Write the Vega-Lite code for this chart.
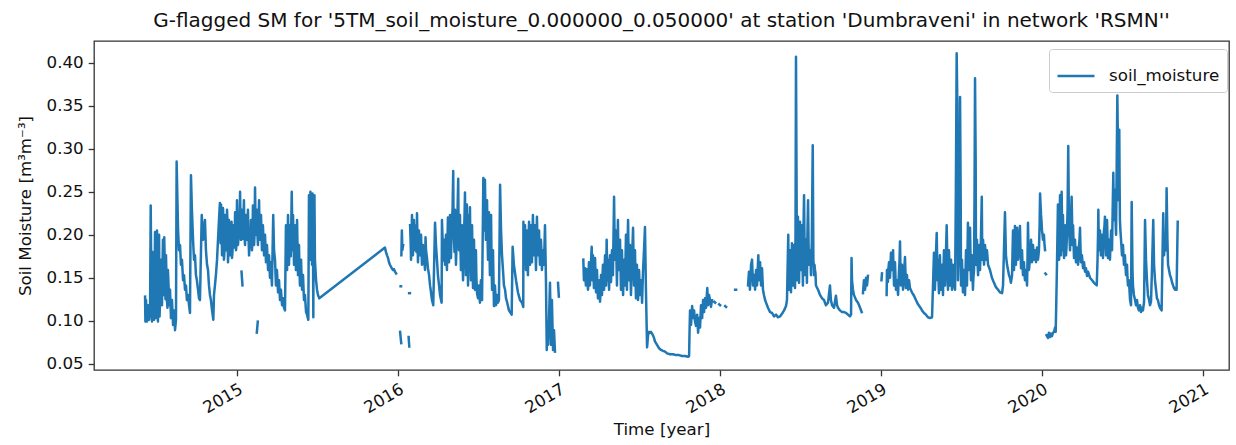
{
"$schema": "https://vega.github.io/schema/vega-lite/v6.json",
"width": 1135, "height": 329,
"autosize": "none",
"padding": {"left": 94, "top": 41, "right": 7, "bottom": 75},
"background": "white",
"title": {"text": "G-flagged SM for '5TM_soil_moisture_0.000000_0.050000' at station 'Dumbraveni' in network 'RSMN''", "font": "DejaVu Sans", "fontSize": 20, "fontWeight": "normal", "color": "#111", "anchor": "middle", "frame": "group", "offset": 10},
"data": {"values": [
{"t":2014.429,"v":0.128,"s":1},{"t":2014.431,"v":0.099,"s":1},{"t":2014.435,"v":0.124,"s":1},{"t":2014.441,"v":0.099,"s":1},{"t":2014.447,"v":0.118,"s":1},{"t":2014.454,"v":0.101,"s":1},{"t":2014.460,"v":0.112,"s":1},{"t":2014.464,"v":0.234,"s":1},{"t":2014.469,"v":0.124,"s":1},{"t":2014.472,"v":0.099,"s":1},{"t":2014.478,"v":0.136,"s":1},{"t":2014.485,"v":0.101,"s":1},{"t":2014.491,"v":0.203,"s":1},{"t":2014.497,"v":0.103,"s":1},{"t":2014.503,"v":0.205,"s":1},{"t":2014.509,"v":0.099,"s":1},{"t":2014.516,"v":0.200,"s":1},{"t":2014.522,"v":0.124,"s":1},{"t":2014.528,"v":0.171,"s":1},{"t":2014.534,"v":0.118,"s":1},{"t":2014.540,"v":0.194,"s":1},{"t":2014.548,"v":0.197,"s":1},{"t":2014.553,"v":0.136,"s":1},{"t":2014.559,"v":0.176,"s":1},{"t":2014.565,"v":0.124,"s":1},{"t":2014.571,"v":0.159,"s":1},{"t":2014.578,"v":0.118,"s":1},{"t":2014.584,"v":0.136,"s":1},{"t":2014.590,"v":0.103,"s":1},{"t":2014.596,"v":0.124,"s":1},{"t":2014.603,"v":0.095,"s":1},{"t":2014.609,"v":0.112,"s":1},{"t":2014.615,"v":0.089,"s":1},{"t":2014.621,"v":0.101,"s":1},{"t":2014.625,"v":0.285,"s":1},{"t":2014.630,"v":0.240,"s":1},{"t":2014.634,"v":0.205,"s":1},{"t":2014.640,"v":0.182,"s":1},{"t":2014.646,"v":0.188,"s":1},{"t":2014.652,"v":0.165,"s":1},{"t":2014.658,"v":0.171,"s":1},{"t":2014.665,"v":0.147,"s":1},{"t":2014.671,"v":0.153,"s":1},{"t":2014.677,"v":0.136,"s":1},{"t":2014.683,"v":0.141,"s":1},{"t":2014.689,"v":0.124,"s":1},{"t":2014.696,"v":0.130,"s":1},{"t":2014.702,"v":0.118,"s":1},{"t":2014.708,"v":0.109,"s":1},{"t":2014.714,"v":0.269,"s":1},{"t":2014.720,"v":0.229,"s":1},{"t":2014.727,"v":0.194,"s":1},{"t":2014.733,"v":0.171,"s":1},{"t":2014.739,"v":0.176,"s":1},{"t":2014.745,"v":0.153,"s":1},{"t":2014.751,"v":0.147,"s":1},{"t":2014.758,"v":0.136,"s":1},{"t":2014.764,"v":0.126,"s":1},{"t":2014.770,"v":0.124,"s":1},{"t":2014.781,"v":0.223,"s":1},{"t":2014.789,"v":0.194,"s":1},{"t":2014.801,"v":0.217,"s":1},{"t":2014.807,"v":0.182,"s":1},{"t":2014.814,"v":0.165,"s":1},{"t":2014.820,"v":0.159,"s":1},{"t":2014.826,"v":0.141,"s":1},{"t":2014.832,"v":0.130,"s":1},{"t":2014.838,"v":0.124,"s":1},{"t":2014.845,"v":0.112,"s":1},{"t":2014.853,"v":0.101,"s":1},{"t":2014.857,"v":0.130,"s":1},{"t":2014.863,"v":0.141,"s":1},{"t":2014.869,"v":0.153,"s":1},{"t":2014.876,"v":0.171,"s":1},{"t":2014.882,"v":0.194,"s":1},{"t":2014.888,"v":0.217,"s":1},{"t":2014.894,"v":0.237,"s":1},{"t":2014.901,"v":0.235,"s":1},{"t":2014.907,"v":0.176,"s":1},{"t":2014.913,"v":0.231,"s":1},{"t":2014.919,"v":0.171,"s":1},{"t":2014.925,"v":0.223,"s":1},{"t":2014.932,"v":0.182,"s":1},{"t":2014.938,"v":0.229,"s":1},{"t":2014.944,"v":0.168,"s":1},{"t":2014.950,"v":0.217,"s":1},{"t":2014.957,"v":0.176,"s":1},{"t":2014.963,"v":0.205,"s":1},{"t":2014.969,"v":0.173,"s":1},{"t":2014.975,"v":0.211,"s":1},{"t":2014.981,"v":0.188,"s":1},{"t":2014.988,"v":0.226,"s":1},{"t":2014.994,"v":0.182,"s":1},{"t":2015.000,"v":0.240,"s":1},{"t":2015.006,"v":0.188,"s":1},{"t":2015.012,"v":0.223,"s":1},{"t":2015.019,"v":0.250,"s":1},{"t":2015.025,"v":0.194,"s":1},{"t":2015.031,"v":0.229,"s":1},{"t":2015.037,"v":0.200,"s":1},{"t":2015.043,"v":0.240,"s":1},{"t":2015.050,"v":0.188,"s":1},{"t":2015.056,"v":0.223,"s":1},{"t":2015.062,"v":0.194,"s":1},{"t":2015.068,"v":0.229,"s":1},{"t":2015.075,"v":0.176,"s":1},{"t":2015.081,"v":0.205,"s":1},{"t":2015.087,"v":0.217,"s":1},{"t":2015.093,"v":0.182,"s":1},{"t":2015.099,"v":0.234,"s":1},{"t":2015.106,"v":0.188,"s":1},{"t":2015.112,"v":0.255,"s":1},{"t":2015.118,"v":0.200,"s":1},{"t":2015.124,"v":0.229,"s":1},{"t":2015.130,"v":0.188,"s":1},{"t":2015.137,"v":0.240,"s":1},{"t":2015.143,"v":0.194,"s":1},{"t":2015.149,"v":0.223,"s":1},{"t":2015.155,"v":0.182,"s":1},{"t":2015.161,"v":0.211,"s":1},{"t":2015.168,"v":0.176,"s":1},{"t":2015.174,"v":0.200,"s":1},{"t":2015.180,"v":0.168,"s":1},{"t":2015.186,"v":0.188,"s":1},{"t":2015.193,"v":0.159,"s":1},{"t":2015.199,"v":0.176,"s":1},{"t":2015.205,"v":0.150,"s":1},{"t":2015.211,"v":0.168,"s":1},{"t":2015.217,"v":0.141,"s":1},{"t":2015.225,"v":0.223,"s":1},{"t":2015.230,"v":0.182,"s":1},{"t":2015.236,"v":0.171,"s":1},{"t":2015.242,"v":0.141,"s":1},{"t":2015.248,"v":0.159,"s":1},{"t":2015.255,"v":0.133,"s":1},{"t":2015.261,"v":0.147,"s":1},{"t":2015.267,"v":0.124,"s":1},{"t":2015.273,"v":0.136,"s":1},{"t":2015.280,"v":0.118,"s":1},{"t":2015.286,"v":0.126,"s":1},{"t":2015.292,"v":0.115,"s":1},{"t":2015.298,"v":0.112,"s":1},{"t":2015.304,"v":0.211,"s":1},{"t":2015.311,"v":0.159,"s":1},{"t":2015.317,"v":0.223,"s":1},{"t":2015.323,"v":0.165,"s":1},{"t":2015.329,"v":0.211,"s":1},{"t":2015.340,"v":0.250,"s":1},{"t":2015.345,"v":0.182,"s":1},{"t":2015.348,"v":0.223,"s":1},{"t":2015.354,"v":0.165,"s":1},{"t":2015.360,"v":0.211,"s":1},{"t":2015.366,"v":0.159,"s":1},{"t":2015.373,"v":0.217,"s":1},{"t":2015.379,"v":0.153,"s":1},{"t":2015.385,"v":0.188,"s":1},{"t":2015.391,"v":0.141,"s":1},{"t":2015.398,"v":0.171,"s":1},{"t":2015.404,"v":0.136,"s":1},{"t":2015.410,"v":0.153,"s":1},{"t":2015.416,"v":0.124,"s":1},{"t":2015.422,"v":0.130,"s":1},{"t":2015.429,"v":0.110,"s":1},{"t":2015.435,"v":0.107,"s":1},{"t":2015.443,"v":0.101,"s":1},{"t":2015.447,"v":0.246,"s":1},{"t":2015.453,"v":0.171,"s":1},{"t":2015.456,"v":0.250,"s":1},{"t":2015.460,"v":0.176,"s":1},{"t":2015.463,"v":0.246,"s":1},{"t":2015.466,"v":0.165,"s":1},{"t":2015.469,"v":0.248,"s":1},{"t":2015.474,"v":0.104,"s":1},{"t":2015.478,"v":0.194,"s":1},{"t":2015.481,"v":0.246,"s":1},{"t":2015.484,"v":0.171,"s":1},{"t":2015.491,"v":0.147,"s":1},{"t":2015.497,"v":0.136,"s":1},{"t":2015.503,"v":0.130,"s":1},{"t":2015.511,"v":0.126,"s":1},{"t":2015.919,"v":0.185,"s":1},{"t":2015.925,"v":0.180,"s":1},{"t":2015.932,"v":0.176,"s":1},{"t":2015.938,"v":0.173,"s":1},{"t":2015.944,"v":0.168,"s":1},{"t":2015.950,"v":0.165,"s":1},{"t":2015.961,"v":0.161,"s":1},{"t":2015.969,"v":0.159,"s":1},{"t":2015.975,"v":0.160,"s":1},{"t":2015.981,"v":0.157,"s":1},{"t":2015.988,"v":0.155,"s":1},
{"t":2015.028,"v":0.157,"s":2},{"t":2015.034,"v":0.141,"s":2},
{"t":2015.123,"v":0.086,"s":3},{"t":2015.129,"v":0.099,"s":3},
{"t":2016.016,"v":0.140,"s":4},{"t":2016.019,"v":0.140,"s":4},
{"t":2016.069,"v":0.132,"s":5},{"t":2016.074,"v":0.132,"s":5},
{"t":2016.013,"v":0.087,"s":6},{"t":2016.020,"v":0.074,"s":6},
{"t":2016.066,"v":0.081,"s":7},{"t":2016.070,"v":0.070,"s":7},
{"t":2016.021,"v":0.176,"s":8},{"t":2016.024,"v":0.205,"s":8},{"t":2016.027,"v":0.182,"s":8},{"t":2016.032,"v":0.188,"s":8},
{"t":2016.075,"v":0.211,"s":9},{"t":2016.081,"v":0.171,"s":9},{"t":2016.087,"v":0.223,"s":9},{"t":2016.093,"v":0.176,"s":9},{"t":2016.099,"v":0.217,"s":9},{"t":2016.106,"v":0.182,"s":9},{"t":2016.112,"v":0.211,"s":9},{"t":2016.118,"v":0.225,"s":9},{"t":2016.124,"v":0.168,"s":9},{"t":2016.130,"v":0.205,"s":9},{"t":2016.137,"v":0.176,"s":9},{"t":2016.143,"v":0.200,"s":9},{"t":2016.149,"v":0.165,"s":9},{"t":2016.155,"v":0.188,"s":9},{"t":2016.162,"v":0.171,"s":9},{"t":2016.168,"v":0.159,"s":9},{"t":2016.171,"v":0.197,"s":9},{"t":2016.174,"v":0.182,"s":9},{"t":2016.180,"v":0.173,"s":9},{"t":2016.186,"v":0.161,"s":9},{"t":2016.193,"v":0.153,"s":9},{"t":2016.199,"v":0.141,"s":9},{"t":2016.205,"v":0.133,"s":9},{"t":2016.211,"v":0.124,"s":9},{"t":2016.219,"v":0.118,"s":9},{"t":2016.230,"v":0.214,"s":9},{"t":2016.236,"v":0.188,"s":9},{"t":2016.242,"v":0.171,"s":9},{"t":2016.248,"v":0.153,"s":9},{"t":2016.255,"v":0.141,"s":9},{"t":2016.261,"v":0.130,"s":9},{"t":2016.271,"v":0.121,"s":9},{"t":2016.273,"v":0.217,"s":9},{"t":2016.279,"v":0.182,"s":9},{"t":2016.286,"v":0.194,"s":9},{"t":2016.292,"v":0.165,"s":9},{"t":2016.298,"v":0.200,"s":9},{"t":2016.304,"v":0.159,"s":9},{"t":2016.310,"v":0.220,"s":9},{"t":2016.317,"v":0.168,"s":9},{"t":2016.323,"v":0.223,"s":9},{"t":2016.329,"v":0.173,"s":9},{"t":2016.335,"v":0.217,"s":9},{"t":2016.343,"v":0.274,"s":9},{"t":2016.348,"v":0.194,"s":9},{"t":2016.354,"v":0.229,"s":9},{"t":2016.360,"v":0.165,"s":9},{"t":2016.366,"v":0.211,"s":9},{"t":2016.374,"v":0.265,"s":9},{"t":2016.379,"v":0.182,"s":9},{"t":2016.385,"v":0.223,"s":9},{"t":2016.391,"v":0.159,"s":9},{"t":2016.397,"v":0.211,"s":9},{"t":2016.404,"v":0.147,"s":9},{"t":2016.410,"v":0.202,"s":9},{"t":2016.416,"v":0.249,"s":9},{"t":2016.422,"v":0.153,"s":9},{"t":2016.428,"v":0.235,"s":9},{"t":2016.435,"v":0.141,"s":9},{"t":2016.441,"v":0.223,"s":9},{"t":2016.447,"v":0.232,"s":9},{"t":2016.453,"v":0.147,"s":9},{"t":2016.460,"v":0.211,"s":9},{"t":2016.466,"v":0.138,"s":9},{"t":2016.472,"v":0.194,"s":9},{"t":2016.478,"v":0.136,"s":9},{"t":2016.484,"v":0.182,"s":9},{"t":2016.491,"v":0.132,"s":9},{"t":2016.497,"v":0.126,"s":9},{"t":2016.503,"v":0.141,"s":9},{"t":2016.509,"v":0.121,"s":9},{"t":2016.515,"v":0.147,"s":9},{"t":2016.522,"v":0.124,"s":9},{"t":2016.530,"v":0.266,"s":9},{"t":2016.534,"v":0.205,"s":9},{"t":2016.540,"v":0.264,"s":9},{"t":2016.546,"v":0.194,"s":9},{"t":2016.553,"v":0.240,"s":9},{"t":2016.559,"v":0.171,"s":9},{"t":2016.565,"v":0.226,"s":9},{"t":2016.571,"v":0.153,"s":9},{"t":2016.578,"v":0.223,"s":9},{"t":2016.584,"v":0.136,"s":9},{"t":2016.590,"v":0.182,"s":9},{"t":2016.596,"v":0.117,"s":9},{"t":2016.602,"v":0.141,"s":9},{"t":2016.609,"v":0.118,"s":9},{"t":2016.615,"v":0.130,"s":9},{"t":2016.621,"v":0.121,"s":9},{"t":2016.627,"v":0.124,"s":9},{"t":2016.634,"v":0.258,"s":9},{"t":2016.640,"v":0.205,"s":9},{"t":2016.646,"v":0.176,"s":9},{"t":2016.652,"v":0.159,"s":9},{"t":2016.658,"v":0.141,"s":9},{"t":2016.665,"v":0.136,"s":9},{"t":2016.671,"v":0.126,"s":9},{"t":2016.677,"v":0.122,"s":9},{"t":2016.683,"v":0.117,"s":9},{"t":2016.689,"v":0.112,"s":9},{"t":2016.696,"v":0.110,"s":9},{"t":2016.706,"v":0.107,"s":9},{"t":2016.712,"v":0.186,"s":9},{"t":2016.720,"v":0.165,"s":9},{"t":2016.733,"v":0.147,"s":9},{"t":2016.745,"v":0.133,"s":9},{"t":2016.758,"v":0.124,"s":9},{"t":2016.770,"v":0.121,"s":9},{"t":2016.778,"v":0.116,"s":9},{"t":2016.779,"v":0.215,"s":9},{"t":2016.782,"v":0.171,"s":9},{"t":2016.789,"v":0.211,"s":9},{"t":2016.795,"v":0.159,"s":9},{"t":2016.801,"v":0.205,"s":9},{"t":2016.807,"v":0.153,"s":9},{"t":2016.814,"v":0.215,"s":9},{"t":2016.820,"v":0.165,"s":9},{"t":2016.826,"v":0.211,"s":9},{"t":2016.832,"v":0.168,"s":9},{"t":2016.838,"v":0.223,"s":9},{"t":2016.845,"v":0.176,"s":9},{"t":2016.851,"v":0.211,"s":9},{"t":2016.857,"v":0.159,"s":9},{"t":2016.863,"v":0.221,"s":9},{"t":2016.869,"v":0.176,"s":9},{"t":2016.876,"v":0.205,"s":9},{"t":2016.882,"v":0.165,"s":9},{"t":2016.888,"v":0.194,"s":9},{"t":2016.894,"v":0.159,"s":9},{"t":2016.901,"v":0.182,"s":9},{"t":2016.907,"v":0.165,"s":9},{"t":2016.913,"v":0.211,"s":9},{"t":2016.919,"v":0.147,"s":9},{"t":2016.924,"v":0.066,"s":9},{"t":2016.927,"v":0.095,"s":9},{"t":2016.932,"v":0.072,"s":9},{"t":2016.938,"v":0.101,"s":9},{"t":2016.944,"v":0.144,"s":9},{"t":2016.950,"v":0.072,"s":9},{"t":2016.956,"v":0.124,"s":9},{"t":2016.963,"v":0.066,"s":9},{"t":2016.969,"v":0.089,"s":9},{"t":2016.975,"v":0.064,"s":9},
{"t":2016.994,"v":0.144,"s":10},{"t":2016.999,"v":0.128,"s":10},
{"t":2017.151,"v":0.171,"s":11},{"t":2017.155,"v":0.147,"s":11},{"t":2017.161,"v":0.161,"s":11},{"t":2017.167,"v":0.141,"s":11},{"t":2017.174,"v":0.153,"s":11},{"t":2017.180,"v":0.136,"s":11},{"t":2017.186,"v":0.168,"s":11},{"t":2017.192,"v":0.141,"s":11},{"t":2017.203,"v":0.186,"s":11},{"t":2017.208,"v":0.147,"s":11},{"t":2017.211,"v":0.176,"s":11},{"t":2017.217,"v":0.138,"s":11},{"t":2017.224,"v":0.173,"s":11},{"t":2017.230,"v":0.133,"s":11},{"t":2017.236,"v":0.159,"s":11},{"t":2017.242,"v":0.126,"s":11},{"t":2017.248,"v":0.147,"s":11},{"t":2017.255,"v":0.122,"s":11},{"t":2017.261,"v":0.153,"s":11},{"t":2017.267,"v":0.130,"s":11},{"t":2017.273,"v":0.165,"s":11},{"t":2017.280,"v":0.136,"s":11},{"t":2017.286,"v":0.176,"s":11},{"t":2017.292,"v":0.141,"s":11},{"t":2017.296,"v":0.194,"s":11},{"t":2017.301,"v":0.147,"s":11},{"t":2017.304,"v":0.171,"s":11},{"t":2017.311,"v":0.136,"s":11},{"t":2017.317,"v":0.176,"s":11},{"t":2017.323,"v":0.145,"s":11},{"t":2017.329,"v":0.182,"s":11},{"t":2017.335,"v":0.153,"s":11},{"t":2017.342,"v":0.244,"s":11},{"t":2017.348,"v":0.171,"s":11},{"t":2017.354,"v":0.205,"s":11},{"t":2017.360,"v":0.141,"s":11},{"t":2017.366,"v":0.217,"s":11},{"t":2017.373,"v":0.159,"s":11},{"t":2017.379,"v":0.194,"s":11},{"t":2017.385,"v":0.136,"s":11},{"t":2017.391,"v":0.182,"s":11},{"t":2017.398,"v":0.130,"s":11},{"t":2017.404,"v":0.171,"s":11},{"t":2017.410,"v":0.141,"s":11},{"t":2017.416,"v":0.200,"s":11},{"t":2017.422,"v":0.136,"s":11},{"t":2017.429,"v":0.217,"s":11},{"t":2017.435,"v":0.147,"s":11},{"t":2017.441,"v":0.188,"s":11},{"t":2017.447,"v":0.130,"s":11},{"t":2017.453,"v":0.171,"s":11},{"t":2017.460,"v":0.208,"s":11},{"t":2017.466,"v":0.141,"s":11},{"t":2017.472,"v":0.182,"s":11},{"t":2017.478,"v":0.126,"s":11},{"t":2017.484,"v":0.165,"s":11},{"t":2017.491,"v":0.124,"s":11},{"t":2017.497,"v":0.159,"s":11},{"t":2017.503,"v":0.130,"s":11},{"t":2017.509,"v":0.147,"s":11},{"t":2017.516,"v":0.121,"s":11},{"t":2017.522,"v":0.159,"s":11},{"t":2017.528,"v":0.182,"s":11},{"t":2017.534,"v":0.209,"s":11},{"t":2017.540,"v":0.136,"s":11},{"t":2017.547,"v":0.069,"s":11},{"t":2017.553,"v":0.083,"s":11},{"t":2017.559,"v":0.087,"s":11},{"t":2017.565,"v":0.086,"s":11},{"t":2017.571,"v":0.087,"s":11},{"t":2017.578,"v":0.085,"s":11},{"t":2017.584,"v":0.083,"s":11},{"t":2017.590,"v":0.080,"s":11},{"t":2017.596,"v":0.076,"s":11},{"t":2017.609,"v":0.072,"s":11},{"t":2017.621,"v":0.068,"s":11},{"t":2017.634,"v":0.066,"s":11},{"t":2017.646,"v":0.065,"s":11},{"t":2017.659,"v":0.064,"s":11},{"t":2017.671,"v":0.062,"s":11},{"t":2017.690,"v":0.061,"s":11},{"t":2017.708,"v":0.061,"s":11},{"t":2017.727,"v":0.060,"s":11},{"t":2017.746,"v":0.060,"s":11},{"t":2017.764,"v":0.059,"s":11},{"t":2017.783,"v":0.059,"s":11},{"t":2017.802,"v":0.058,"s":11},{"t":2017.808,"v":0.059,"s":11},{"t":2017.811,"v":0.089,"s":11},{"t":2017.814,"v":0.112,"s":11},{"t":2017.820,"v":0.095,"s":11},{"t":2017.827,"v":0.117,"s":11},{"t":2017.833,"v":0.103,"s":11},{"t":2017.839,"v":0.112,"s":11},{"t":2017.845,"v":0.099,"s":11},{"t":2017.851,"v":0.094,"s":11},{"t":2017.858,"v":0.107,"s":11},{"t":2017.864,"v":0.086,"s":11},{"t":2017.870,"v":0.103,"s":11},{"t":2017.876,"v":0.092,"s":11},{"t":2017.882,"v":0.118,"s":11},{"t":2017.889,"v":0.103,"s":11},{"t":2017.895,"v":0.124,"s":11},{"t":2017.901,"v":0.110,"s":11},{"t":2017.907,"v":0.126,"s":11},{"t":2017.913,"v":0.115,"s":11},{"t":2017.921,"v":0.138,"s":11},{"t":2017.926,"v":0.118,"s":11},{"t":2017.932,"v":0.130,"s":11},{"t":2017.938,"v":0.124,"s":11},{"t":2017.944,"v":0.116,"s":11},{"t":2017.950,"v":0.124,"s":11},
{"t":2017.964,"v":0.122,"s":12},{"t":2017.970,"v":0.121,"s":12},
{"t":2017.995,"v":0.119,"s":13},{"t":2018.001,"v":0.118,"s":13},
{"t":2018.032,"v":0.117,"s":14},{"t":2018.038,"v":0.116,"s":14},
{"t":2018.094,"v":0.136,"s":15},{"t":2018.100,"v":0.136,"s":15},
{"t":2018.174,"v":0.141,"s":16},{"t":2018.180,"v":0.157,"s":16},{"t":2018.186,"v":0.136,"s":16},{"t":2018.193,"v":0.165,"s":16},{"t":2018.199,"v":0.171,"s":16},{"t":2018.205,"v":0.141,"s":16},{"t":2018.211,"v":0.153,"s":16},{"t":2018.218,"v":0.136,"s":16},{"t":2018.224,"v":0.159,"s":16},{"t":2018.230,"v":0.141,"s":16},{"t":2018.238,"v":0.176,"s":16},{"t":2018.242,"v":0.147,"s":16},{"t":2018.249,"v":0.168,"s":16},{"t":2018.255,"v":0.141,"s":16},{"t":2018.261,"v":0.161,"s":16},{"t":2018.267,"v":0.136,"s":16},{"t":2018.273,"v":0.130,"s":16},{"t":2018.280,"v":0.124,"s":16},{"t":2018.286,"v":0.121,"s":16},{"t":2018.298,"v":0.115,"s":16},{"t":2018.311,"v":0.110,"s":16},{"t":2018.323,"v":0.109,"s":16},{"t":2018.336,"v":0.105,"s":16},{"t":2018.348,"v":0.107,"s":16},{"t":2018.360,"v":0.104,"s":16},{"t":2018.373,"v":0.105,"s":16},{"t":2018.385,"v":0.108,"s":16},{"t":2018.398,"v":0.112,"s":16},{"t":2018.410,"v":0.117,"s":16},{"t":2018.416,"v":0.124,"s":16},{"t":2018.424,"v":0.200,"s":16},{"t":2018.429,"v":0.136,"s":16},{"t":2018.435,"v":0.182,"s":16},{"t":2018.441,"v":0.133,"s":16},{"t":2018.447,"v":0.190,"s":16},{"t":2018.453,"v":0.141,"s":16},{"t":2018.460,"v":0.188,"s":16},{"t":2018.466,"v":0.138,"s":16},{"t":2018.472,"v":0.407,"s":16},{"t":2018.476,"v":0.240,"s":16},{"t":2018.478,"v":0.147,"s":16},{"t":2018.484,"v":0.221,"s":16},{"t":2018.491,"v":0.144,"s":16},{"t":2018.497,"v":0.215,"s":16},{"t":2018.503,"v":0.159,"s":16},{"t":2018.509,"v":0.211,"s":16},{"t":2018.515,"v":0.141,"s":16},{"t":2018.522,"v":0.246,"s":16},{"t":2018.528,"v":0.153,"s":16},{"t":2018.534,"v":0.194,"s":16},{"t":2018.540,"v":0.144,"s":16},{"t":2018.547,"v":0.240,"s":16},{"t":2018.553,"v":0.165,"s":16},{"t":2018.559,"v":0.182,"s":16},{"t":2018.565,"v":0.153,"s":16},{"t":2018.576,"v":0.304,"s":16},{"t":2018.580,"v":0.171,"s":16},{"t":2018.584,"v":0.153,"s":16},{"t":2018.590,"v":0.159,"s":16},{"t":2018.596,"v":0.141,"s":16},{"t":2018.609,"v":0.136,"s":16},{"t":2018.621,"v":0.130,"s":16},{"t":2018.634,"v":0.126,"s":16},{"t":2018.646,"v":0.124,"s":16},{"t":2018.658,"v":0.118,"s":16},{"t":2018.671,"v":0.121,"s":16},{"t":2018.683,"v":0.141,"s":16},{"t":2018.689,"v":0.124,"s":16},{"t":2018.696,"v":0.118,"s":16},{"t":2018.708,"v":0.115,"s":16},{"t":2018.720,"v":0.129,"s":16},{"t":2018.727,"v":0.118,"s":16},{"t":2018.733,"v":0.115,"s":16},{"t":2018.745,"v":0.112,"s":16},{"t":2018.758,"v":0.110,"s":16},{"t":2018.770,"v":0.110,"s":16},{"t":2018.783,"v":0.109,"s":16},{"t":2018.795,"v":0.107,"s":16},{"t":2018.807,"v":0.105,"s":16},{"t":2018.814,"v":0.107,"s":16},{"t":2018.817,"v":0.173,"s":16},{"t":2018.820,"v":0.147,"s":16},{"t":2018.826,"v":0.136,"s":16},{"t":2018.832,"v":0.130,"s":16},{"t":2018.845,"v":0.124,"s":16},{"t":2018.857,"v":0.121,"s":16},{"t":2018.870,"v":0.115,"s":16},{"t":2018.880,"v":0.110,"s":16},
{"t":2018.888,"v":0.132,"s":17},{"t":2018.894,"v":0.147,"s":17},{"t":2018.901,"v":0.136,"s":17},{"t":2018.907,"v":0.150,"s":17},{"t":2018.913,"v":0.141,"s":17},{"t":2018.919,"v":0.152,"s":17},
{"t":2019.003,"v":0.147,"s":18},{"t":2019.006,"v":0.155,"s":18},
{"t":2019.035,"v":0.130,"s":19},{"t":2019.037,"v":0.159,"s":19},{"t":2019.043,"v":0.145,"s":19},{"t":2019.050,"v":0.168,"s":19},{"t":2019.056,"v":0.150,"s":19},{"t":2019.062,"v":0.179,"s":19},{"t":2019.068,"v":0.159,"s":19},{"t":2019.075,"v":0.182,"s":19},{"t":2019.081,"v":0.141,"s":19},{"t":2019.087,"v":0.168,"s":19},{"t":2019.093,"v":0.136,"s":19},{"t":2019.099,"v":0.147,"s":19},{"t":2019.106,"v":0.130,"s":19},{"t":2019.112,"v":0.159,"s":19},{"t":2019.118,"v":0.192,"s":19},{"t":2019.124,"v":0.141,"s":19},{"t":2019.130,"v":0.165,"s":19},{"t":2019.137,"v":0.136,"s":19},{"t":2019.143,"v":0.159,"s":19},{"t":2019.149,"v":0.174,"s":19},{"t":2019.155,"v":0.138,"s":19},{"t":2019.161,"v":0.153,"s":19},{"t":2019.168,"v":0.136,"s":19},{"t":2019.174,"v":0.147,"s":19},{"t":2019.180,"v":0.138,"s":19},{"t":2019.192,"v":0.133,"s":19},{"t":2019.205,"v":0.129,"s":19},{"t":2019.217,"v":0.124,"s":19},{"t":2019.230,"v":0.119,"s":19},{"t":2019.242,"v":0.116,"s":19},{"t":2019.255,"v":0.112,"s":19},{"t":2019.267,"v":0.109,"s":19},{"t":2019.279,"v":0.107,"s":19},{"t":2019.292,"v":0.104,"s":19},{"t":2019.304,"v":0.103,"s":19},{"t":2019.317,"v":0.104,"s":19},{"t":2019.323,"v":0.141,"s":19},{"t":2019.329,"v":0.179,"s":19},{"t":2019.335,"v":0.136,"s":19},{"t":2019.346,"v":0.202,"s":19},{"t":2019.351,"v":0.147,"s":19},{"t":2019.354,"v":0.171,"s":19},{"t":2019.360,"v":0.132,"s":19},{"t":2019.366,"v":0.176,"s":19},{"t":2019.373,"v":0.136,"s":19},{"t":2019.379,"v":0.165,"s":19},{"t":2019.385,"v":0.130,"s":19},{"t":2019.391,"v":0.182,"s":19},{"t":2019.398,"v":0.141,"s":19},{"t":2019.408,"v":0.211,"s":19},{"t":2019.413,"v":0.159,"s":19},{"t":2019.416,"v":0.136,"s":19},{"t":2019.422,"v":0.182,"s":19},{"t":2019.429,"v":0.141,"s":19},{"t":2019.435,"v":0.171,"s":19},{"t":2019.441,"v":0.136,"s":19},{"t":2019.447,"v":0.165,"s":19},{"t":2019.453,"v":0.147,"s":19},{"t":2019.460,"v":0.136,"s":19},{"t":2019.470,"v":0.411,"s":19},{"t":2019.474,"v":0.351,"s":19},{"t":2019.478,"v":0.147,"s":19},{"t":2019.484,"v":0.182,"s":19},{"t":2019.491,"v":0.360,"s":19},{"t":2019.495,"v":0.240,"s":19},{"t":2019.497,"v":0.141,"s":19},{"t":2019.503,"v":0.171,"s":19},{"t":2019.509,"v":0.133,"s":19},{"t":2019.515,"v":0.159,"s":19},{"t":2019.522,"v":0.130,"s":19},{"t":2019.528,"v":0.182,"s":19},{"t":2019.534,"v":0.141,"s":19},{"t":2019.540,"v":0.214,"s":19},{"t":2019.547,"v":0.159,"s":19},{"t":2019.553,"v":0.208,"s":19},{"t":2019.559,"v":0.147,"s":19},{"t":2019.565,"v":0.176,"s":19},{"t":2019.571,"v":0.136,"s":19},{"t":2019.578,"v":0.159,"s":19},{"t":2019.584,"v":0.382,"s":19},{"t":2019.588,"v":0.287,"s":19},{"t":2019.590,"v":0.165,"s":19},{"t":2019.596,"v":0.194,"s":19},{"t":2019.603,"v":0.153,"s":19},{"t":2019.609,"v":0.188,"s":19},{"t":2019.615,"v":0.159,"s":19},{"t":2019.626,"v":0.244,"s":19},{"t":2019.629,"v":0.171,"s":19},{"t":2019.634,"v":0.194,"s":19},{"t":2019.640,"v":0.165,"s":19},{"t":2019.646,"v":0.188,"s":19},{"t":2019.652,"v":0.171,"s":19},{"t":2019.658,"v":0.182,"s":19},{"t":2019.665,"v":0.165,"s":19},{"t":2019.677,"v":0.159,"s":19},{"t":2019.689,"v":0.150,"s":19},{"t":2019.702,"v":0.144,"s":19},{"t":2019.714,"v":0.139,"s":19},{"t":2019.727,"v":0.136,"s":19},{"t":2019.739,"v":0.133,"s":19},{"t":2019.752,"v":0.132,"s":19},{"t":2019.758,"v":0.141,"s":19},{"t":2019.770,"v":0.226,"s":19},{"t":2019.776,"v":0.176,"s":19},{"t":2019.783,"v":0.165,"s":19},{"t":2019.789,"v":0.159,"s":19},{"t":2019.795,"v":0.153,"s":19},{"t":2019.801,"v":0.150,"s":19},{"t":2019.807,"v":0.144,"s":19},{"t":2019.814,"v":0.153,"s":19},{"t":2019.820,"v":0.205,"s":19},{"t":2019.826,"v":0.159,"s":19},{"t":2019.832,"v":0.210,"s":19},{"t":2019.838,"v":0.165,"s":19},{"t":2019.845,"v":0.208,"s":19},{"t":2019.851,"v":0.171,"s":19},{"t":2019.857,"v":0.194,"s":19},{"t":2019.863,"v":0.210,"s":19},{"t":2019.870,"v":0.161,"s":19},{"t":2019.876,"v":0.182,"s":19},{"t":2019.882,"v":0.153,"s":19},{"t":2019.888,"v":0.168,"s":19},{"t":2019.894,"v":0.147,"s":19},{"t":2019.901,"v":0.159,"s":19},{"t":2019.907,"v":0.141,"s":19},{"t":2019.913,"v":0.214,"s":19},{"t":2019.919,"v":0.159,"s":19},{"t":2019.925,"v":0.171,"s":19},{"t":2019.932,"v":0.194,"s":19},{"t":2019.938,"v":0.168,"s":19},{"t":2019.944,"v":0.188,"s":19},{"t":2019.950,"v":0.171,"s":19},{"t":2019.956,"v":0.182,"s":19},{"t":2019.963,"v":0.168,"s":19},{"t":2019.969,"v":0.185,"s":19},{"t":2019.975,"v":0.171,"s":19},{"t":2019.981,"v":0.182,"s":19},{"t":2019.988,"v":0.248,"s":19},{"t":2019.994,"v":0.223,"s":19},{"t":2020.000,"v":0.205,"s":19},{"t":2020.006,"v":0.194,"s":19},{"t":2020.012,"v":0.200,"s":19},{"t":2020.019,"v":0.182,"s":19},
{"t":2020.021,"v":0.155,"s":20},{"t":2020.025,"v":0.154,"s":20},
{"t":2020.028,"v":0.083,"s":21},{"t":2020.037,"v":0.080,"s":21},{"t":2020.043,"v":0.086,"s":21},{"t":2020.050,"v":0.081,"s":21},{"t":2020.056,"v":0.085,"s":21},{"t":2020.062,"v":0.082,"s":21},{"t":2020.068,"v":0.086,"s":21},{"t":2020.075,"v":0.087,"s":21},{"t":2020.081,"v":0.092,"s":21},{"t":2020.085,"v":0.087,"s":21},{"t":2020.089,"v":0.124,"s":21},{"t":2020.093,"v":0.165,"s":21},{"t":2020.099,"v":0.235,"s":21},{"t":2020.106,"v":0.171,"s":21},{"t":2020.112,"v":0.246,"s":21},{"t":2020.118,"v":0.176,"s":21},{"t":2020.122,"v":0.250,"s":21},{"t":2020.127,"v":0.182,"s":21},{"t":2020.130,"v":0.223,"s":21},{"t":2020.137,"v":0.173,"s":21},{"t":2020.143,"v":0.211,"s":21},{"t":2020.149,"v":0.176,"s":21},{"t":2020.155,"v":0.200,"s":21},{"t":2020.163,"v":0.303,"s":21},{"t":2020.168,"v":0.217,"s":21},{"t":2020.174,"v":0.182,"s":21},{"t":2020.184,"v":0.244,"s":21},{"t":2020.189,"v":0.188,"s":21},{"t":2020.193,"v":0.211,"s":21},{"t":2020.199,"v":0.173,"s":21},{"t":2020.205,"v":0.194,"s":21},{"t":2020.211,"v":0.168,"s":21},{"t":2020.217,"v":0.185,"s":21},{"t":2020.224,"v":0.165,"s":21},{"t":2020.230,"v":0.188,"s":21},{"t":2020.236,"v":0.208,"s":21},{"t":2020.242,"v":0.168,"s":21},{"t":2020.248,"v":0.176,"s":21},{"t":2020.255,"v":0.161,"s":21},{"t":2020.261,"v":0.168,"s":21},{"t":2020.267,"v":0.157,"s":21},{"t":2020.273,"v":0.161,"s":21},{"t":2020.280,"v":0.152,"s":21},{"t":2020.286,"v":0.157,"s":21},{"t":2020.298,"v":0.150,"s":21},{"t":2020.311,"v":0.147,"s":21},{"t":2020.323,"v":0.144,"s":21},{"t":2020.340,"v":0.141,"s":21},{"t":2020.345,"v":0.171,"s":21},{"t":2020.350,"v":0.229,"s":21},{"t":2020.354,"v":0.182,"s":21},{"t":2020.360,"v":0.205,"s":21},{"t":2020.366,"v":0.176,"s":21},{"t":2020.373,"v":0.200,"s":21},{"t":2020.379,"v":0.173,"s":21},{"t":2020.385,"v":0.205,"s":21},{"t":2020.391,"v":0.221,"s":21},{"t":2020.398,"v":0.176,"s":21},{"t":2020.404,"v":0.217,"s":21},{"t":2020.410,"v":0.173,"s":21},{"t":2020.416,"v":0.194,"s":21},{"t":2020.422,"v":0.171,"s":21},{"t":2020.429,"v":0.205,"s":21},{"t":2020.435,"v":0.182,"s":21},{"t":2020.443,"v":0.272,"s":21},{"t":2020.447,"v":0.217,"s":21},{"t":2020.453,"v":0.252,"s":21},{"t":2020.460,"v":0.200,"s":21},{"t":2020.468,"v":0.362,"s":21},{"t":2020.472,"v":0.298,"s":21},{"t":2020.476,"v":0.240,"s":21},{"t":2020.480,"v":0.322,"s":21},{"t":2020.484,"v":0.217,"s":21},{"t":2020.491,"v":0.194,"s":21},{"t":2020.497,"v":0.176,"s":21},{"t":2020.503,"v":0.188,"s":21},{"t":2020.509,"v":0.165,"s":21},{"t":2020.515,"v":0.176,"s":21},{"t":2020.522,"v":0.153,"s":21},{"t":2020.528,"v":0.165,"s":21},{"t":2020.534,"v":0.141,"s":21},{"t":2020.540,"v":0.147,"s":21},{"t":2020.547,"v":0.124,"s":21},{"t":2020.553,"v":0.118,"s":21},{"t":2020.557,"v":0.238,"s":21},{"t":2020.562,"v":0.159,"s":21},{"t":2020.565,"v":0.141,"s":21},{"t":2020.571,"v":0.130,"s":21},{"t":2020.578,"v":0.124,"s":21},{"t":2020.584,"v":0.118,"s":21},{"t":2020.590,"v":0.124,"s":21},{"t":2020.596,"v":0.115,"s":21},{"t":2020.602,"v":0.112,"s":21},{"t":2020.609,"v":0.118,"s":21},{"t":2020.615,"v":0.110,"s":21},{"t":2020.621,"v":0.115,"s":21},{"t":2020.627,"v":0.112,"s":21},{"t":2020.634,"v":0.122,"s":21},{"t":2020.640,"v":0.217,"s":21},{"t":2020.646,"v":0.171,"s":21},{"t":2020.652,"v":0.147,"s":21},{"t":2020.658,"v":0.130,"s":21},{"t":2020.665,"v":0.124,"s":21},{"t":2020.671,"v":0.118,"s":21},{"t":2020.677,"v":0.122,"s":21},{"t":2020.683,"v":0.159,"s":21},{"t":2020.691,"v":0.217,"s":21},{"t":2020.696,"v":0.165,"s":21},{"t":2020.702,"v":0.147,"s":21},{"t":2020.708,"v":0.136,"s":21},{"t":2020.714,"v":0.126,"s":21},{"t":2020.720,"v":0.124,"s":21},{"t":2020.727,"v":0.118,"s":21},{"t":2020.733,"v":0.115,"s":21},{"t":2020.743,"v":0.112,"s":21},{"t":2020.748,"v":0.171,"s":21},{"t":2020.753,"v":0.225,"s":21},{"t":2020.758,"v":0.176,"s":21},{"t":2020.764,"v":0.194,"s":21},{"t":2020.770,"v":0.182,"s":21},{"t":2020.774,"v":0.254,"s":21},{"t":2020.779,"v":0.194,"s":21},{"t":2020.783,"v":0.165,"s":21},{"t":2020.789,"v":0.159,"s":21},{"t":2020.795,"v":0.153,"s":21},{"t":2020.801,"v":0.150,"s":21},{"t":2020.807,"v":0.145,"s":21},{"t":2020.814,"v":0.141,"s":21},{"t":2020.820,"v":0.138,"s":21},{"t":2020.826,"v":0.136,"s":21},{"t":2020.832,"v":0.138,"s":21},{"t":2020.836,"v":0.136,"s":21},{"t":2020.840,"v":0.182,"s":21},{"t":2020.843,"v":0.215,"s":21},
{"t":2014.475,"v":0.180,"s":1},{"t":2014.481,"v":0.110,"s":1},{"t":2014.488,"v":0.150,"s":1},{"t":2014.494,"v":0.115,"s":1},{"t":2014.500,"v":0.160,"s":1},{"t":2014.506,"v":0.110,"s":1},{"t":2014.513,"v":0.150,"s":1},{"t":2014.519,"v":0.105,"s":1},{"t":2014.525,"v":0.140,"s":1},{"t":2014.531,"v":0.120,"s":1},{"t":2014.537,"v":0.160,"s":1},{"t":2014.544,"v":0.130,"s":1},{"t":2014.551,"v":0.170,"s":1},{"t":2014.556,"v":0.125,"s":1},{"t":2014.562,"v":0.150,"s":1},{"t":2014.568,"v":0.115,"s":1},{"t":2014.575,"v":0.140,"s":1},
{"t":2014.898,"v":0.190,"s":1},{"t":2014.904,"v":0.215,"s":1},{"t":2014.910,"v":0.185,"s":1},{"t":2014.916,"v":0.215,"s":1},{"t":2014.922,"v":0.180,"s":1},{"t":2014.929,"v":0.210,"s":1},{"t":2014.935,"v":0.185,"s":1},{"t":2014.941,"v":0.215,"s":1},{"t":2014.947,"v":0.180,"s":1},{"t":2014.953,"v":0.205,"s":1},{"t":2014.960,"v":0.185,"s":1},{"t":2014.966,"v":0.215,"s":1},{"t":2014.972,"v":0.180,"s":1},{"t":2014.978,"v":0.200,"s":1},{"t":2014.985,"v":0.185,"s":1},{"t":2014.991,"v":0.210,"s":1},{"t":2014.997,"v":0.190,"s":1},{"t":2015.003,"v":0.215,"s":1},{"t":2015.009,"v":0.195,"s":1},{"t":2015.016,"v":0.205,"s":1},{"t":2015.022,"v":0.215,"s":1},{"t":2015.028,"v":0.205,"s":1},{"t":2015.034,"v":0.195,"s":1},{"t":2015.040,"v":0.215,"s":1},{"t":2015.046,"v":0.200,"s":1},{"t":2015.053,"v":0.210,"s":1},{"t":2015.059,"v":0.200,"s":1},{"t":2015.065,"v":0.205,"s":1},{"t":2015.071,"v":0.200,"s":1},{"t":2015.078,"v":0.190,"s":1},{"t":2015.084,"v":0.195,"s":1},{"t":2015.090,"v":0.205,"s":1},{"t":2015.096,"v":0.195,"s":1},{"t":2015.103,"v":0.210,"s":1},{"t":2015.109,"v":0.200,"s":1},{"t":2015.115,"v":0.215,"s":1},{"t":2015.121,"v":0.205,"s":1},{"t":2015.127,"v":0.200,"s":1},{"t":2015.134,"v":0.215,"s":1},{"t":2015.140,"v":0.205,"s":1},{"t":2015.146,"v":0.200,"s":1},{"t":2015.152,"v":0.205,"s":1},{"t":2015.158,"v":0.190,"s":1},{"t":2015.164,"v":0.195,"s":1},{"t":2015.171,"v":0.185,"s":1},
{"t":2015.307,"v":0.180,"s":1},{"t":2015.314,"v":0.195,"s":1},{"t":2015.320,"v":0.180,"s":1},{"t":2015.326,"v":0.190,"s":1},{"t":2015.334,"v":0.175,"s":1},{"t":2015.351,"v":0.195,"s":1},{"t":2015.357,"v":0.180,"s":1},{"t":2015.363,"v":0.190,"s":1},{"t":2015.369,"v":0.175,"s":1},{"t":2015.376,"v":0.185,"s":1},{"t":2015.382,"v":0.165,"s":1},{"t":2015.388,"v":0.160,"s":1},{"t":2015.394,"v":0.155,"s":1},{"t":2015.401,"v":0.150,"s":1},{"t":2015.407,"v":0.145,"s":1},{"t":2015.450,"v":0.230,"s":1},{"t":2015.458,"v":0.220,"s":1},{"t":2015.465,"v":0.210,"s":1},{"t":2015.471,"v":0.230,"s":1},{"t":2015.476,"v":0.220,"s":1},
{"t":2016.078,"v":0.195,"s":9},{"t":2016.084,"v":0.200,"s":9},{"t":2016.090,"v":0.195,"s":9},{"t":2016.096,"v":0.205,"s":9},{"t":2016.102,"v":0.190,"s":9},{"t":2016.109,"v":0.200,"s":9},{"t":2016.115,"v":0.180,"s":9},{"t":2016.121,"v":0.195,"s":9},{"t":2016.127,"v":0.185,"s":9},{"t":2016.133,"v":0.190,"s":9},{"t":2016.140,"v":0.185,"s":9},{"t":2016.146,"v":0.180,"s":9},{"t":2016.152,"v":0.175,"s":9},
{"t":2016.276,"v":0.200,"s":9},{"t":2016.282,"v":0.170,"s":9},{"t":2016.289,"v":0.180,"s":9},{"t":2016.295,"v":0.185,"s":9},{"t":2016.301,"v":0.175,"s":9},{"t":2016.307,"v":0.190,"s":9},{"t":2016.313,"v":0.185,"s":9},{"t":2016.320,"v":0.200,"s":9},{"t":2016.326,"v":0.190,"s":9},{"t":2016.332,"v":0.195,"s":9},{"t":2016.339,"v":0.230,"s":9},{"t":2016.345,"v":0.215,"s":9},{"t":2016.351,"v":0.180,"s":9},{"t":2016.357,"v":0.200,"s":9},{"t":2016.363,"v":0.185,"s":9},{"t":2016.370,"v":0.230,"s":9},{"t":2016.376,"v":0.215,"s":9},{"t":2016.382,"v":0.200,"s":9},{"t":2016.388,"v":0.185,"s":9},{"t":2016.394,"v":0.180,"s":9},{"t":2016.400,"v":0.175,"s":9},{"t":2016.407,"v":0.170,"s":9},{"t":2016.413,"v":0.220,"s":9},{"t":2016.419,"v":0.200,"s":9},{"t":2016.425,"v":0.180,"s":9},{"t":2016.431,"v":0.190,"s":9},{"t":2016.438,"v":0.175,"s":9},{"t":2016.444,"v":0.190,"s":9},{"t":2016.450,"v":0.180,"s":9},{"t":2016.456,"v":0.170,"s":9},{"t":2016.463,"v":0.165,"s":9},{"t":2016.469,"v":0.160,"s":9},{"t":2016.475,"v":0.160,"s":9},{"t":2016.481,"v":0.150,"s":9},{"t":2016.487,"v":0.150,"s":9},{"t":2016.532,"v":0.230,"s":9},{"t":2016.537,"v":0.220,"s":9},{"t":2016.543,"v":0.225,"s":9},{"t":2016.549,"v":0.210,"s":9},{"t":2016.556,"v":0.200,"s":9},{"t":2016.562,"v":0.195,"s":9},{"t":2016.568,"v":0.185,"s":9},{"t":2016.574,"v":0.180,"s":9},{"t":2016.581,"v":0.170,"s":9},{"t":2016.587,"v":0.160,"s":9},
{"t":2016.785,"v":0.190,"s":9},{"t":2016.792,"v":0.180,"s":9},{"t":2016.798,"v":0.190,"s":9},{"t":2016.804,"v":0.175,"s":9},{"t":2016.810,"v":0.190,"s":9},{"t":2016.817,"v":0.180,"s":9},{"t":2016.823,"v":0.195,"s":9},{"t":2016.829,"v":0.185,"s":9},{"t":2016.835,"v":0.195,"s":9},{"t":2016.841,"v":0.195,"s":9},{"t":2016.848,"v":0.190,"s":9},{"t":2016.854,"v":0.185,"s":9},{"t":2016.860,"v":0.190,"s":9},{"t":2016.866,"v":0.195,"s":9},{"t":2016.872,"v":0.190,"s":9},{"t":2016.879,"v":0.180,"s":9},{"t":2016.885,"v":0.175,"s":9},{"t":2016.891,"v":0.180,"s":9},
{"t":2017.158,"v":0.155,"s":11},{"t":2017.164,"v":0.150,"s":11},{"t":2017.170,"v":0.160,"s":11},{"t":2017.177,"v":0.145,"s":11},{"t":2017.183,"v":0.150,"s":11},{"t":2017.189,"v":0.155,"s":11},{"t":2017.197,"v":0.160,"s":11},{"t":2017.214,"v":0.155,"s":11},{"t":2017.220,"v":0.160,"s":11},{"t":2017.227,"v":0.150,"s":11},{"t":2017.233,"v":0.145,"s":11},{"t":2017.239,"v":0.140,"s":11},{"t":2017.245,"v":0.135,"s":11},{"t":2017.251,"v":0.140,"s":11},{"t":2017.258,"v":0.135,"s":11},{"t":2017.264,"v":0.145,"s":11},{"t":2017.270,"v":0.150,"s":11},{"t":2017.277,"v":0.155,"s":11},{"t":2017.283,"v":0.160,"s":11},{"t":2017.289,"v":0.160,"s":11},{"t":2017.307,"v":0.155,"s":11},{"t":2017.314,"v":0.160,"s":11},{"t":2017.320,"v":0.155,"s":11},{"t":2017.326,"v":0.165,"s":11},{"t":2017.332,"v":0.165,"s":11},{"t":2017.345,"v":0.200,"s":11},{"t":2017.351,"v":0.185,"s":11},{"t":2017.357,"v":0.170,"s":11},{"t":2017.363,"v":0.180,"s":11},{"t":2017.369,"v":0.175,"s":11},{"t":2017.376,"v":0.170,"s":11},{"t":2017.382,"v":0.165,"s":11},{"t":2017.388,"v":0.160,"s":11},{"t":2017.394,"v":0.155,"s":11},{"t":2017.401,"v":0.150,"s":11},{"t":2017.407,"v":0.160,"s":11},{"t":2017.413,"v":0.170,"s":11},{"t":2017.419,"v":0.175,"s":11},{"t":2017.425,"v":0.180,"s":11},{"t":2017.432,"v":0.180,"s":11},{"t":2017.438,"v":0.165,"s":11},{"t":2017.444,"v":0.155,"s":11},{"t":2017.450,"v":0.150,"s":11},{"t":2017.456,"v":0.185,"s":11},{"t":2017.463,"v":0.175,"s":11},{"t":2017.469,"v":0.160,"s":11},{"t":2017.475,"v":0.150,"s":11},{"t":2017.481,"v":0.145,"s":11},{"t":2017.487,"v":0.140,"s":11},{"t":2017.494,"v":0.140,"s":11},{"t":2017.500,"v":0.145,"s":11},{"t":2017.506,"v":0.135,"s":11},{"t":2017.512,"v":0.140,"s":11},{"t":2017.519,"v":0.140,"s":11},{"t":2017.525,"v":0.170,"s":11},{"t":2017.531,"v":0.195,"s":11},
{"t":2018.426,"v":0.160,"s":16},{"t":2018.432,"v":0.155,"s":16},{"t":2018.438,"v":0.160,"s":16},{"t":2018.444,"v":0.165,"s":16},{"t":2018.450,"v":0.160,"s":16},{"t":2018.456,"v":0.165,"s":16},{"t":2018.463,"v":0.160,"s":16},{"t":2018.469,"v":0.200,"s":16},{"t":2018.481,"v":0.190,"s":16},{"t":2018.487,"v":0.175,"s":16},{"t":2018.494,"v":0.185,"s":16},{"t":2018.500,"v":0.180,"s":16},{"t":2018.506,"v":0.185,"s":16},{"t":2018.512,"v":0.175,"s":16},{"t":2018.518,"v":0.200,"s":16},{"t":2018.525,"v":0.190,"s":16},{"t":2018.531,"v":0.175,"s":16},{"t":2018.537,"v":0.170,"s":16},{"t":2018.543,"v":0.200,"s":16},{"t":2018.550,"v":0.190,"s":16},{"t":2018.556,"v":0.170,"s":16},{"t":2018.562,"v":0.175,"s":16},{"t":2018.570,"v":0.190,"s":16},{"t":2018.578,"v":0.240,"s":16},{"t":2018.582,"v":0.165,"s":16},{"t":2018.587,"v":0.165,"s":16},{"t":2018.593,"v":0.155,"s":16},
{"t":2019.040,"v":0.150,"s":19},{"t":2019.046,"v":0.160,"s":19},{"t":2019.053,"v":0.155,"s":19},{"t":2019.059,"v":0.165,"s":19},{"t":2019.065,"v":0.165,"s":19},{"t":2019.071,"v":0.170,"s":19},{"t":2019.078,"v":0.160,"s":19},{"t":2019.084,"v":0.155,"s":19},{"t":2019.090,"v":0.150,"s":19},{"t":2019.096,"v":0.145,"s":19},{"t":2019.102,"v":0.140,"s":19},{"t":2019.109,"v":0.145,"s":19},{"t":2019.115,"v":0.170,"s":19},{"t":2019.121,"v":0.160,"s":19},{"t":2019.127,"v":0.150,"s":19},{"t":2019.133,"v":0.150,"s":19},{"t":2019.140,"v":0.145,"s":19},{"t":2019.146,"v":0.165,"s":19},{"t":2019.152,"v":0.155,"s":19},{"t":2019.158,"v":0.145,"s":19},{"t":2019.164,"v":0.145,"s":19},
{"t":2019.326,"v":0.160,"s":19},{"t":2019.332,"v":0.155,"s":19},{"t":2019.340,"v":0.170,"s":19},{"t":2019.357,"v":0.150,"s":19},{"t":2019.363,"v":0.155,"s":19},{"t":2019.369,"v":0.150,"s":19},{"t":2019.376,"v":0.150,"s":19},{"t":2019.382,"v":0.145,"s":19},{"t":2019.388,"v":0.155,"s":19},{"t":2019.394,"v":0.160,"s":19},{"t":2019.403,"v":0.175,"s":19},{"t":2019.419,"v":0.160,"s":19},{"t":2019.425,"v":0.165,"s":19},{"t":2019.432,"v":0.155,"s":19},{"t":2019.438,"v":0.155,"s":19},{"t":2019.444,"v":0.150,"s":19},{"t":2019.450,"v":0.155,"s":19},{"t":2019.456,"v":0.140,"s":19},{"t":2019.465,"v":0.250,"s":19},{"t":2019.481,"v":0.165,"s":19},{"t":2019.488,"v":0.260,"s":19},{"t":2019.500,"v":0.155,"s":19},{"t":2019.506,"v":0.150,"s":19},{"t":2019.512,"v":0.145,"s":19},{"t":2019.518,"v":0.145,"s":19},{"t":2019.525,"v":0.155,"s":19},{"t":2019.531,"v":0.160,"s":19},{"t":2019.537,"v":0.175,"s":19},{"t":2019.543,"v":0.185,"s":19},{"t":2019.550,"v":0.180,"s":19},{"t":2019.556,"v":0.175,"s":19},{"t":2019.562,"v":0.160,"s":19},{"t":2019.568,"v":0.155,"s":19},{"t":2019.574,"v":0.150,"s":19},{"t":2019.581,"v":0.250,"s":19},{"t":2019.593,"v":0.180,"s":19},{"t":2019.599,"v":0.170,"s":19},{"t":2019.606,"v":0.170,"s":19},{"t":2019.612,"v":0.170,"s":19},{"t":2019.620,"v":0.190,"s":19},{"t":2019.632,"v":0.180,"s":19},{"t":2019.637,"v":0.175,"s":19},{"t":2019.643,"v":0.175,"s":19},{"t":2019.649,"v":0.180,"s":19},{"t":2019.655,"v":0.175,"s":19},{"t":2019.661,"v":0.175,"s":19},
{"t":2019.823,"v":0.180,"s":19},{"t":2019.829,"v":0.185,"s":19},{"t":2019.835,"v":0.180,"s":19},{"t":2019.841,"v":0.185,"s":19},{"t":2019.848,"v":0.185,"s":19},{"t":2019.854,"v":0.180,"s":19},{"t":2019.860,"v":0.200,"s":19},{"t":2019.866,"v":0.185,"s":19},{"t":2019.873,"v":0.170,"s":19},{"t":2019.879,"v":0.165,"s":19},{"t":2019.885,"v":0.160,"s":19},{"t":2019.891,"v":0.155,"s":19},{"t":2019.897,"v":0.150,"s":19},{"t":2019.904,"v":0.150,"s":19},{"t":2019.910,"v":0.170,"s":19},{"t":2019.916,"v":0.185,"s":19},{"t":2019.922,"v":0.165,"s":19},{"t":2019.929,"v":0.180,"s":19},{"t":2019.935,"v":0.180,"s":19},{"t":2019.941,"v":0.178,"s":19},{"t":2019.947,"v":0.180,"s":19},{"t":2019.953,"v":0.176,"s":19},{"t":2019.959,"v":0.175,"s":19},{"t":2019.966,"v":0.176,"s":19},{"t":2019.972,"v":0.178,"s":19},{"t":2019.978,"v":0.176,"s":19},{"t":2019.985,"v":0.210,"s":19},{"t":2019.991,"v":0.235,"s":19},{"t":2019.997,"v":0.215,"s":19},{"t":2020.003,"v":0.200,"s":19},{"t":2020.009,"v":0.198,"s":19},{"t":2020.015,"v":0.190,"s":19},
{"t":2020.096,"v":0.200,"s":21},{"t":2020.102,"v":0.200,"s":21},{"t":2020.109,"v":0.205,"s":21},{"t":2020.115,"v":0.210,"s":21},{"t":2020.120,"v":0.215,"s":21},{"t":2020.125,"v":0.210,"s":21},{"t":2020.133,"v":0.195,"s":21},{"t":2020.140,"v":0.190,"s":21},{"t":2020.146,"v":0.195,"s":21},{"t":2020.152,"v":0.185,"s":21},{"t":2020.159,"v":0.230,"s":21},{"t":2020.166,"v":0.240,"s":21},{"t":2020.171,"v":0.195,"s":21},{"t":2020.179,"v":0.210,"s":21},{"t":2020.187,"v":0.215,"s":21},{"t":2020.191,"v":0.195,"s":21},{"t":2020.196,"v":0.190,"s":21},{"t":2020.202,"v":0.180,"s":21},{"t":2020.208,"v":0.180,"s":21},{"t":2020.214,"v":0.175,"s":21},{"t":2020.220,"v":0.172,"s":21},{"t":2020.227,"v":0.175,"s":21},{"t":2020.233,"v":0.195,"s":21},{"t":2020.239,"v":0.185,"s":21},{"t":2020.245,"v":0.170,"s":21},
{"t":2020.348,"v":0.200,"s":21},{"t":2020.352,"v":0.200,"s":21},{"t":2020.357,"v":0.190,"s":21},{"t":2020.363,"v":0.190,"s":21},{"t":2020.369,"v":0.190,"s":21},{"t":2020.376,"v":0.185,"s":21},{"t":2020.382,"v":0.190,"s":21},{"t":2020.388,"v":0.210,"s":21},{"t":2020.394,"v":0.200,"s":21},{"t":2020.401,"v":0.195,"s":21},{"t":2020.407,"v":0.195,"s":21},{"t":2020.413,"v":0.185,"s":21},{"t":2020.419,"v":0.180,"s":21},{"t":2020.425,"v":0.185,"s":21},{"t":2020.432,"v":0.190,"s":21},{"t":2020.439,"v":0.230,"s":21},{"t":2020.445,"v":0.240,"s":21},{"t":2020.450,"v":0.230,"s":21},{"t":2020.456,"v":0.220,"s":21},{"t":2020.464,"v":0.280,"s":21},{"t":2020.470,"v":0.330,"s":21},{"t":2020.474,"v":0.270,"s":21},{"t":2020.478,"v":0.280,"s":21},{"t":2020.482,"v":0.260,"s":21},{"t":2020.487,"v":0.205,"s":21},{"t":2020.494,"v":0.185,"s":21},{"t":2020.500,"v":0.180,"s":21},{"t":2020.506,"v":0.175,"s":21},{"t":2020.512,"v":0.170,"s":21},{"t":2020.518,"v":0.165,"s":21},{"t":2020.525,"v":0.160,"s":21},{"t":2020.531,"v":0.150,"s":21}
]},
"mark": {"type": "line", "strokeWidth": 2.5, "strokeJoin": "round", "strokeCap": "square"},
"encoding": {
  "x": {"field": "t", "type": "quantitative",
        "scale": {"domain": [2014.1118, 2021.1615], "nice": false, "zero": false},
        "axis": {"values": [2015, 2016, 2017, 2018, 2019, 2020, 2021], "format": "d", "title": "Time [year]",
                 "labelAngle": -30, "labelAlign": "right", "labelBaseline": "top", "labelPadding": 5, "titlePadding": 5}},
  "y": {"field": "v", "type": "quantitative",
        "scale": {"domain": [0.04267, 0.42523], "nice": false, "zero": false},
        "axis": {"values": [0.05, 0.1, 0.15, 0.2, 0.25, 0.3, 0.35, 0.4], "format": ".2f", "title": "Soil Moisture [m³m⁻³]",
                 "labelPadding": 5, "titlePadding": 12}},
  "color": {"datum": "soil_moisture", "type": "nominal", "scale": {"range": ["#1f77b4"]},
            "legend": {"title": null, "orient": "none", "legendX": 955, "legendY": 8, "fillColor": "#ffffff", "strokeColor": "#cccccc",
                       "cornerRadius": 3, "padding": 7, "symbolType": "stroke", "symbolSize": 1369, "symbolStrokeWidth": 2.5,
                       "labelFont": "DejaVu Sans", "labelFontSize": 16.7, "labelColor": "#111", "labelOffset": 13}},
  "detail": {"field": "s", "type": "nominal"}
},
"config": {
  "view": {"stroke": "#333333", "strokeWidth": 1.3},
  "axis": {"labelFont": "DejaVu Sans", "labelFontSize": 16.7, "labelColor": "#111", "titleFont": "DejaVu Sans", "titleFontSize": 16.7,
           "titleFontWeight": "normal", "titleColor": "#111", "tickColor": "#333333", "tickSize": 5.8, "tickWidth": 1.3, "domain": false, "grid": false}
}
}
